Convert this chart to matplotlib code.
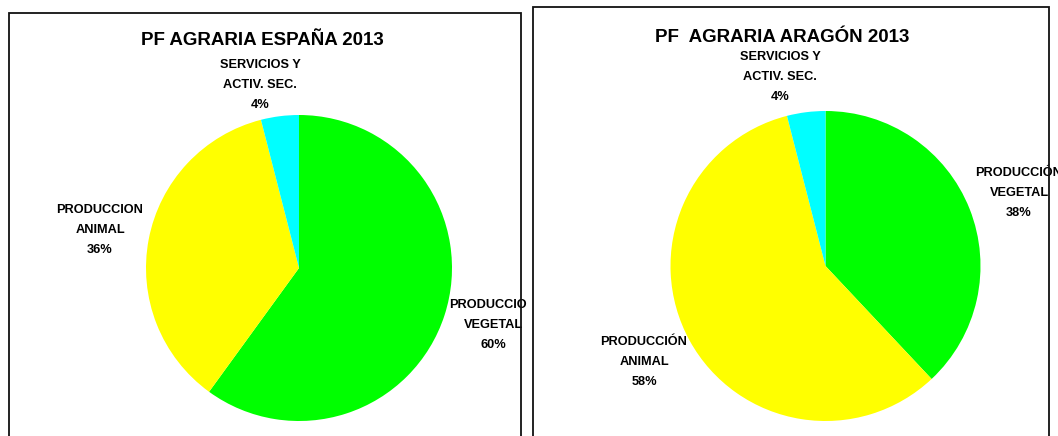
import matplotlib
matplotlib.use('Agg')
import numpy as np
import matplotlib.pyplot as plt
from matplotlib.patches import Rectangle

plt.rcParams['font.family'] = ['Liberation Sans', 'DejaVu Sans']

# ---- data ----
categories_esp = ['PRODUCCION\nVEGETAL', 'PRODUCCION\nANIMAL', 'SERVICIOS Y\nACTIV. SEC.']
values_esp = [60, 36, 4]
categories_ara = ['PRODUCCIÓN\nVEGETAL', 'PRODUCCIÓN\nANIMAL', 'SERVICIOS Y\nACTIV. SEC.']
values_ara = [38, 58, 4]
colors = ['#00ff00', '#ffff00', '#00ffff']
title_esp = 'PF AGRARIA ESPAÑA 2013'
title_ara = 'PF  AGRARIA ARAGÓN 2013'

W, H = 1058, 436
fig = plt.figure(figsize=(W / 100, H / 100), dpi=100)
ax = fig.add_axes([0, 0, 1, 1])

# pixel-ish layout: (center x, center y from top, radius)
panels = [
    dict(vals=values_esp, cats=categories_esp, title=title_esp, cx=299, cy=268, r=153,
         title_xy=(262, 45), box=(9, 13, 521), clip_x=527,
         lab_xy=[(493, 325), (100, 230), (260, 85)]),
    dict(vals=values_ara, cats=categories_ara, title=title_ara, cx=825.5, cy=266, r=155,
         title_xy=(782, 42), box=(533, 7, 1049), clip_x=W,
         lab_xy=[(1019, 193), (644, 362), (780, 77)]),
]

for p in panels:
    # panel frame (bottom edge is off the image)
    x0, y0, x1 = p['box']
    ax.add_patch(Rectangle((x0, -20), x1 - x0, (H - y0) + 20, fill=False,
                           edgecolor='#111111', linewidth=1.3, zorder=5))

    ax.pie(p['vals'], colors=colors, startangle=90, counterclock=False,
           center=(p['cx'], H - p['cy']), radius=p['r'],
           wedgeprops=dict(linewidth=0), frame=False)

    ax.text(p['title_xy'][0], H - p['title_xy'][1], p['title'], ha='center', va='baseline',
            fontsize=13.5, fontweight='bold')

    clip = Rectangle((0, 0), p['clip_x'], H, transform=ax.transData)
    for cat, v, (lx, ly) in zip(p['cats'], p['vals'], p['lab_xy']):
        t = ax.text(lx, H - ly, f'{cat}\n{v}%', ha='center', va='center',
                    fontsize=9.2, fontweight='bold', linespacing=1.9,
                    multialignment='center', clip_on=True)
        t.set_clip_path(clip)

ax.set_xlim(0, W)
ax.set_ylim(0, H)
ax.set_aspect('auto')
ax.axis('off')

fig.savefig('out.png', dpi=100, facecolor='white')
